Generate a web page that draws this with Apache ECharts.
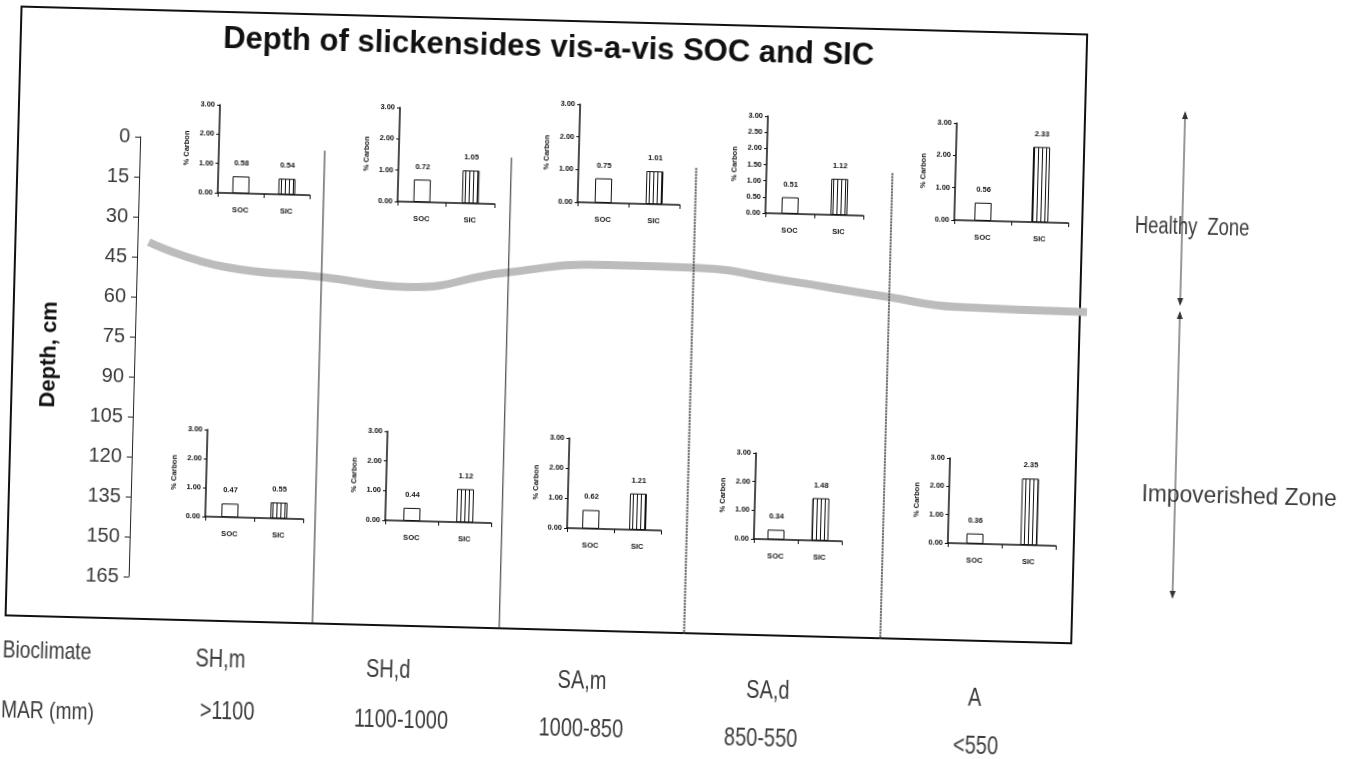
<!DOCTYPE html>
<html>
<head>
<meta charset="utf-8">
<title>Depth of slickensides vis-a-vis SOC and SIC</title>
<script src="https://cdn.jsdelivr.net/npm/echarts@6/dist/echarts.min.js"></script>
<style>
    html, body { margin: 0; padding: 0; background: #fff; overflow: hidden; }
    /* the scanned page is slightly skewed, so the whole chart is turned a little */
    #main { width: 1364px; height: 759px; transform: rotate(1.5deg); transform-origin: 682px 379.5px; }
</style>
</head>
<body>
<div id="main"></div>
<script>
// 数据
var bioclimate = ['SH,m', 'SH,d', 'SA,m', 'SA,d', 'A'];
var rainfall = ['>1100', '1100-1000', '1000-850', '850-550', '<550'];
var carbonCats = ['SOC', 'SIC'];
var socUpper = [0.58, 0.72, 0.75, 0.51, 0.56];
var sicUpper = [0.54, 1.05, 1.01, 1.12, 2.33];
var socLower = [0.47, 0.44, 0.62, 0.34, 0.36];
var sicLower = [0.55, 1.12, 1.21, 1.48, 2.35];
var upperStep = [1, 1, 1, 0.5, 1];
// slickenside boundary: position along the transect (column units) and depth (cm)
var boundaryPos = [0.06, 0.47, 0.98, 1.44, 1.94, 2.5, 2.96, 3.42, 3.98, 4.35, 5.04];
var boundaryDepth = [39.4, 48, 50.8, 53.7, 47.5, 43.5, 43.7, 47.4, 52.7, 55.8, 56.4];
// column dividers (column units) and the depth where each one starts
var dividerPos = [0.98, 1.97, 2.95, 3.99];
var dividerTop = [3.4, 4.2, 6.3, 6.3];
var dividerBottom = 181;

(function() {
    var myChart = echarts.init(document.getElementById('main'));

    // layout of the small charts: [left, top, width, height]
    var upperBoxes = [[213, 117, 92, 88], [393, 115, 97, 94], [573, 107, 102, 98], [761, 114, 98, 97], [950, 116, 114, 97]];
    var lowerBoxes = [[209, 442, 98, 87], [389, 439, 106, 89], [571, 441, 94, 90], [758, 451, 88, 86], [952, 451, 108, 85]];
    var bioPos = [[228, 672], [396, 678], [590, 684], [776, 689], [983, 691]];
    var marPos = [[236, 724], [410, 728], [590, 732], [770, 737], [985, 739]];

    // 竖条纹 (SIC bars)
    var stripe = document.createElement('canvas');
    stripe.width = 4;
    stripe.height = 8;
    var ctx = stripe.getContext('2d');
    ctx.fillStyle = '#fff';
    ctx.fillRect(0, 0, 4, 8);
    ctx.fillStyle = '#111';
    ctx.fillRect(0, 0, 1, 8);

    var plain = 'Liberation Sans, Arial, sans-serif';
    var tiny = { fontSize: 7.5, fontWeight: 'bold', color: '#111', fontFamily: plain };

    var grid = [{ left: 134, top: 151, width: 953, height: 440 }];
    var xAxis = [{ type: 'value', gridIndex: 0, min: 0, max: 5.05, show: false }];
    var yAxis = [{
        type: 'value',
        gridIndex: 0,
        inverse: true,
        min: 0,
        max: 165,
        interval: 15,
        name: 'Depth, cm',
        nameLocation: 'middle',
        nameGap: 74,
        nameRotate: 90,
        nameTextStyle: { fontSize: 22, fontWeight: 'bold', color: '#111', fontFamily: plain },
        axisLine: { show: true, lineStyle: { color: '#222', width: 1 } },
        axisTick: { show: true, length: 5, lineStyle: { color: '#222' } },
        axisLabel: { fontSize: 20, color: '#3a3a3a', margin: 10, fontFamily: plain },
        splitLine: { show: false }
    }];
    var series = [];

    series.push({
        name: 'boundary',
        type: 'line',
        xAxisIndex: 0,
        yAxisIndex: 0,
        smooth: 0.5,
        symbol: 'none',
        clip: false,
        lineStyle: { color: '#bcbcbc', width: 8 },
        data: boundaryPos.map(function(x, i) { return [x, boundaryDepth[i]]; }),
        z: 1
    });

    dividerPos.forEach(function(x, i) {
        series.push({
            type: 'line',
            xAxisIndex: 0,
            yAxisIndex: 0,
            symbol: 'none',
            clip: false,
            silent: true,
            lineStyle: i < 2 ? { color: '#222', width: 1 } : { color: '#555', width: 2, type: [2, 1] },
            data: [[x, dividerTop[i]], [x, dividerBottom]],
            z: 2
        });
    });

    function addMini(box, soc, sic, step) {
        var idx = grid.length;
        grid.push({ left: box[0], top: box[1], width: box[2], height: box[3] });
        xAxis.push({
            type: 'category',
            gridIndex: idx,
            data: carbonCats,
            axisLine: { lineStyle: { color: '#111', width: 1.5 } },
            axisTick: { show: true, length: 4, lineStyle: { color: '#111' } },
            axisLabel: Object.assign({ margin: 13 }, tiny)
        });
        yAxis.push({
            type: 'value',
            gridIndex: idx,
            min: 0,
            max: 3,
            interval: step,
            name: '% Carbon',
            nameLocation: 'middle',
            nameGap: 28,
            nameRotate: 90,
            nameTextStyle: tiny,
            axisLine: { show: true, lineStyle: { color: '#111', width: 1.5 } },
            axisTick: { show: true, length: 3, lineStyle: { color: '#111' } },
            axisLabel: Object.assign({ margin: 5, formatter: function(v) { return v.toFixed(2); } }, tiny),
            splitLine: { show: false }
        });
        series.push({
            type: 'bar',
            xAxisIndex: idx,
            yAxisIndex: idx,
            barWidth: 17,
            label: {
                show: true,
                position: 'top',
                distance: 9,
                formatter: function(p) { return p.value.toFixed(2); },
                fontSize: 7.5,
                fontWeight: 'bold',
                color: '#111'
            },
            itemStyle: { borderColor: '#111', borderWidth: 1 },
            data: [
                { value: soc, itemStyle: { color: '#fff' } },
                { value: sic, itemStyle: { color: { image: stripe, repeat: 'repeat' } } }
            ],
            z: 3
        });
    }

    for (var i = 0; i < 5; i++) {
        addMini(upperBoxes[i], socUpper[i], sicUpper[i], upperStep[i]);
        addMini(lowerBoxes[i], socLower[i], sicLower[i], 1);
    }

    // the scan uses a condensed face, so plain text is squeezed sideways
    function label(t, x, y, size, align, squeeze) {
        return {
            type: 'text', x: x, y: y, scaleX: squeeze, scaleY: 1,
            style: { text: t, font: size + 'px ' + plain, fill: '#3c3c3c', textAlign: align, textVerticalAlign: 'middle' }
        };
    }

    var graphic = [
        { type: 'rect', shape: { x: 12, y: 24, width: 1066, height: 609 }, style: { fill: 'none', stroke: '#111', lineWidth: 2 }, z: 0 },
        { type: 'text', x: 540, y: 51, style: { text: 'Depth of slickensides vis-a-vis SOC and SIC', font: 'bold 31px ' + plain, fill: '#111', textAlign: 'center', textVerticalAlign: 'middle' } },
        label('Bioclimate', 10, 668, 24, 'left', 0.8),
        label('MAR (mm)', 10, 728, 24, 'left', 0.8),
        label('Healthy  Zone', 1188, 215, 23, 'center', 0.8),
        label('Impoverished Zone', 1242, 482, 24, 'center', 0.95),
        // zone arrows
        { type: 'line', shape: { x1: 1178, y1: 100, x2: 1178, y2: 291 }, style: { stroke: '#333', lineWidth: 1 } },
        { type: 'line', shape: { x1: 1178, y1: 300, x2: 1178, y2: 584 }, style: { stroke: '#333', lineWidth: 1 } },
        { type: 'polygon', shape: { points: [[1178, 98], [1175, 106], [1181, 106]] }, style: { fill: '#333' } },
        { type: 'polygon', shape: { points: [[1178, 293], [1175, 285], [1181, 285]] }, style: { fill: '#333' } },
        { type: 'polygon', shape: { points: [[1178, 298], [1175, 306], [1181, 306]] }, style: { fill: '#333' } },
        { type: 'polygon', shape: { points: [[1178, 586], [1175, 578], [1181, 578]] }, style: { fill: '#333' } }
    ];
    bioclimate.forEach(function(t, i) {
        graphic.push(label(t, bioPos[i][0], bioPos[i][1], 25, 'center', 0.8));
    });
    rainfall.forEach(function(t, i) {
        graphic.push(label(t, marPos[i][0], marPos[i][1], 25, 'center', 0.8));
    });

    var option = {
        backgroundColor: '#fff',
        animation: false,
        grid: grid,
        xAxis: xAxis,
        yAxis: yAxis,
        series: series,
        graphic: graphic
    };
    myChart.setOption(option);
})();
</script>
</body>
</html>
